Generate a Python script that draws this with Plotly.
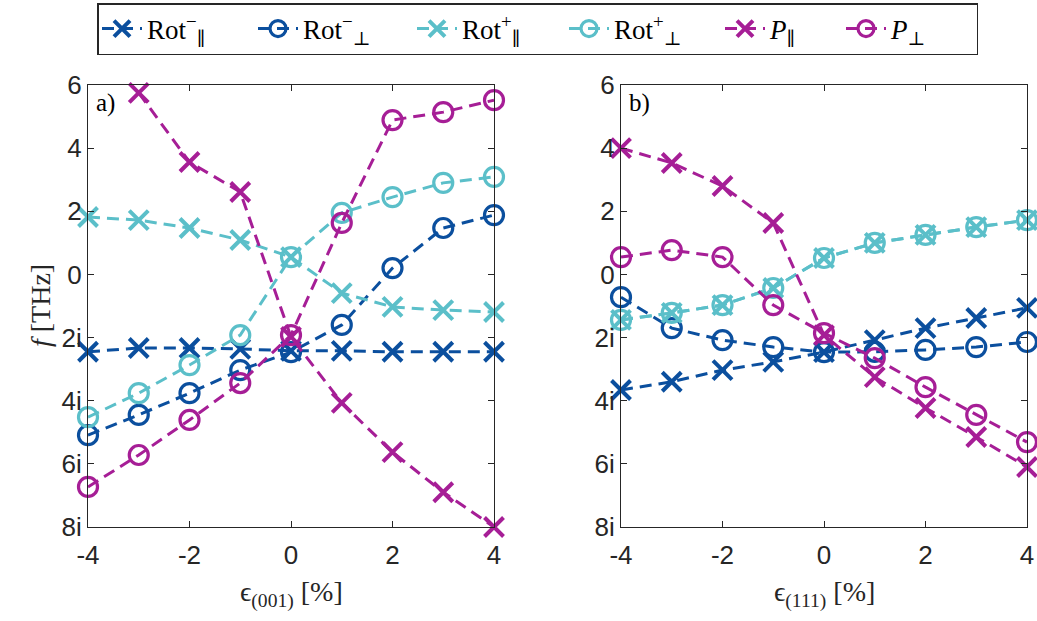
import plotly.graph_objects as go

strain = [-4, -3, -2, -1, 0, 1, 2, 3, 4]

# Panel a) epsilon(001)
a_rot_par_minus = [-2.45, -2.33, -2.33, -2.36, -2.42, -2.42, -2.45, -2.45, -2.45]
a_rot_perp_minus = [-5.09, -4.45, -3.76, -3.03, -2.46, -1.6, 0.2, 1.47, 1.88]
a_rot_par_plus = [1.82, 1.72, 1.47, 1.09, 0.55, -0.59, -1.03, -1.13, -1.19]
a_rot_perp_plus = [-4.52, -3.76, -2.87, -1.92, 0.55, 1.95, 2.45, 2.9, 3.09]
a_p_par = [None, 5.75, 3.56, 2.61, -1.98, -4.07, -5.63, -6.9, -8.0]
a_p_perp = [-6.73, -5.72, -4.61, -3.44, -1.92, 1.63, 4.89, 5.14, 5.52]

# Panel b) epsilon(111)
b_rot_par_minus = [-3.66, -3.4, -3.03, -2.77, -2.46, -2.08, -1.7, -1.38, -1.06]
b_rot_perp_minus = [-0.72, -1.7, -2.08, -2.3, -2.46, -2.45, -2.39, -2.3, -2.14]
b_rot_par_plus = [-1.44, -1.22, -0.97, -0.43, 0.52, 1.0, 1.25, 1.5, 1.72]
b_rot_perp_plus = [-1.44, -1.22, -0.97, -0.43, 0.52, 1.0, 1.25, 1.5, 1.72]
b_p_par = [4.0, 3.53, 2.8, 1.63, -1.92, -3.25, -4.23, -5.15, -6.1]
b_p_perp = [0.55, 0.77, 0.55, -0.97, -1.86, -2.65, -3.57, -4.45, -5.31]

y_tickvals = [6, 4, 2, 0, -2, -4, -6, -8]
y_ticktext = ["6", "4", "2", "0", "2i", "4i", "6i", "8i"]
x_tickvals = [-4, -2, 0, 2, 4]
x_ticktext = ["-4", "-2", "0", "2", "4"]

names = ["Rot<sup>−</sup><sub>∥</sub>", "Rot<sup>−</sup><sub>⊥</sub>",
         "Rot<sup>+</sup><sub>∥</sub>", "Rot<sup>+</sup><sub>⊥</sub>",
         "<i>P</i><sub>∥</sub>", "<i>P</i><sub>⊥</sub>"]
DB, CY, MG = "#0B4F9E", "#5BBFC9", "#A61E96"
colors = [DB, DB, CY, CY, MG, MG]
symbols = ["x-thin", "circle-open", "x-thin", "circle-open", "x-thin", "circle-open"]
legend_widths = [101, 104, 97, 101, 66, 80]

series_a = [a_rot_par_minus, a_rot_perp_minus, a_rot_par_plus, a_rot_perp_plus, a_p_par, a_p_perp]
series_b = [b_rot_par_minus, b_rot_perp_minus, b_rot_par_plus, b_rot_perp_plus, b_p_par, b_p_perp]

fig = go.Figure()
for i in range(6):
    for k, (ser, xa, ya) in enumerate([(series_a, "x", "y"), (series_b, "x2", "y2")]):
        fig.add_trace(go.Scatter(
            x=strain, y=ser[i], xaxis=xa, yaxis=ya, mode="lines+markers",
            name=names[i], legendgroup=names[i], showlegend=(k == 0),
            legendwidth=legend_widths[i],
            cliponaxis=False,
            line=dict(color=colors[i], width=3, dash="12px,7px"),
            marker=dict(symbol=symbols[i], size=19,
                        color=colors[i],
                        line=dict(color=colors[i], width=4 if symbols[i] == "x-thin" else 3.2)),
        ))

W, H = 1037, 621
def fx(px):
    return px / W
def fy(py):
    return 1 - py / H

axis_common = dict(showgrid=False, zeroline=False, showline=True, linecolor="#262626",
                   linewidth=1, mirror="ticks", ticks="inside", ticklen=6,
                   tickcolor="#262626", automargin=False,
                   tickfont=dict(family="Liberation Sans, Arial", size=26, color="#262626"))

fig.update_layout(
    width=W, height=H, margin=dict(l=0, r=0, t=0, b=0, autoexpand=False),
    plot_bgcolor="white", paper_bgcolor="white",
    xaxis=dict(domain=[fx(88), fx(494)], range=[-4, 4], tickvals=x_tickvals, ticktext=x_ticktext,
               anchor="y", ticklabelstandoff=5, **axis_common),
    xaxis2=dict(domain=[fx(621), fx(1027)], range=[-4, 4], tickvals=x_tickvals, ticktext=x_ticktext,
                anchor="y2", ticklabelstandoff=5, **axis_common),
    yaxis=dict(domain=[fy(527), fy(85)], range=[-8, 6], tickvals=y_tickvals, ticktext=y_ticktext, anchor="x", **axis_common),
    yaxis2=dict(domain=[fy(527), fy(85)], range=[-8, 6], tickvals=y_tickvals, ticktext=y_ticktext, anchor="x2", **axis_common),
    legend=dict(orientation="h", x=fx(97), xanchor="left", y=fy(3), yanchor="top",
                bordercolor="#262626", borderwidth=1.5, bgcolor="white",
                font=dict(family="Liberation Serif, DejaVu Serif", size=27, color="black"),
                itemwidth=40, tracegroupgap=0),
    showlegend=True,
)

serif = dict(family="Liberation Serif, DejaVu Serif", size=28, color="#262626")
fig.add_annotation(text="<i>f</i> [THz]", x=fx(40), y=fy(306), xref="paper", yref="paper",
                   xanchor="center", yanchor="middle",
                   textangle=-90, showarrow=False, font=serif)
fig.add_annotation(text="ϵ<sub>(001)</sub> [%]", x=fx(291), y=fy(594), xref="paper", yref="paper",
                   xanchor="center", yanchor="middle", showarrow=False, font=serif)
fig.add_annotation(text="ϵ<sub>(111)</sub> [%]", x=fx(824), y=fy(594), xref="paper", yref="paper",
                   xanchor="center", yanchor="middle", showarrow=False, font=serif)
fig.add_annotation(text="a)", x=0.015, y=0.995, xref="x domain", yref="y domain",
                   xanchor="left", yanchor="top", showarrow=False,
                   font=dict(family="Liberation Serif, DejaVu Serif", size=25, color="black"))
fig.add_annotation(text="b)", x=0.015, y=0.995, xref="x2 domain", yref="y2 domain",
                   xanchor="left", yanchor="top", showarrow=False,
                   font=dict(family="Liberation Serif, DejaVu Serif", size=25, color="black"))

fig.write_html("out.html", config={"displayModeBar": False},
               post_script="document.body.style.margin='0';document.body.style.overflow='hidden';")
